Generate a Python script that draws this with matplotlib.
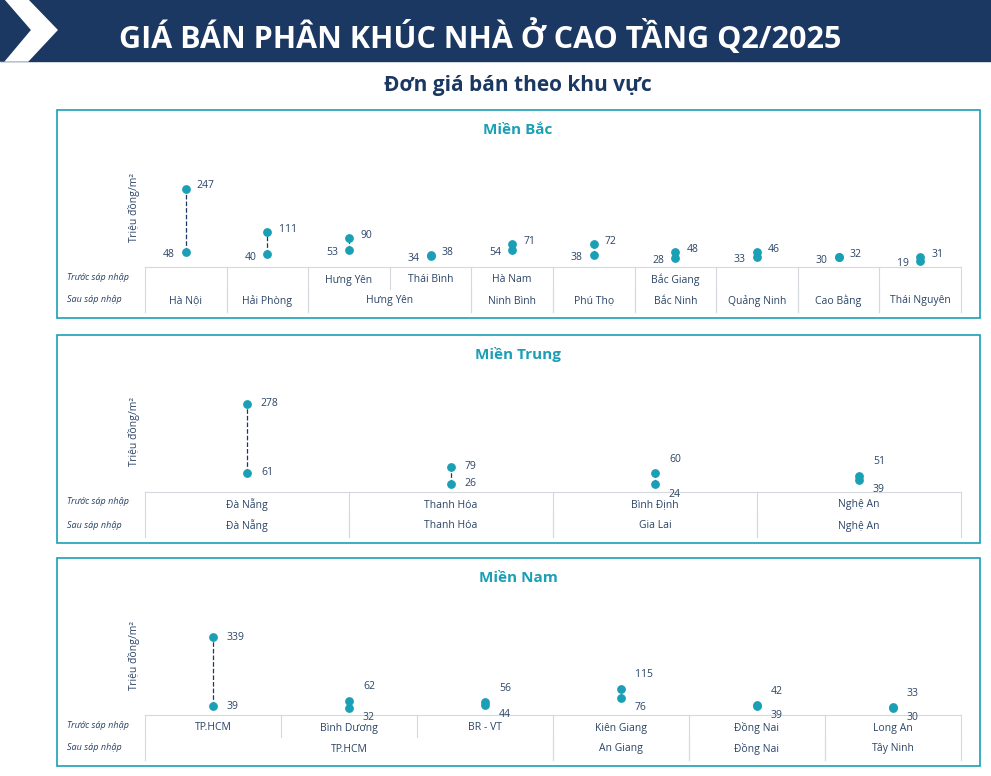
import matplotlib
matplotlib.use("Agg")
from matplotlib import pyplot as plt
from matplotlib.patches import Rectangle, Polygon

# ---- data ----
BAC_BEFORE = ["", "", "Hưng Yên", "Thái Bình", "Hà Nam", "", "Bắc Giang", "", "", ""]
BAC_AFTER = [("Hà Nội", 0, 1), ("Hải Phòng", 1, 2), ("Hưng Yên", 2, 4), ("Ninh Bình", 4, 5),
             ("Phú Thọ", 5, 6), ("Bắc Ninh", 6, 7), ("Quảng Ninh", 7, 8), ("Cao Bằng", 8, 9),
             ("Thái Nguyên", 9, 10)]
BAC_LOW = [48, 40, 53, 34, 54, 38, 28, 33, 30, 19]
BAC_HIGH = [247, 111, 90, 38, 71, 72, 48, 46, 32, 31]

TRUNG_BEFORE = ["Đà Nẵng", "Thanh Hóa", "Bình Định", "Nghệ An"]
TRUNG_AFTER = [("Đà Nẵng", 0, 1), ("Thanh Hóa", 1, 2), ("Gia Lai", 2, 3), ("Nghệ An", 3, 4)]
TRUNG_LOW = [61, 26, 24, 39]
TRUNG_HIGH = [278, 79, 60, 51]

NAM_BEFORE = ["TP.HCM", "Bình Dương", "BR - VT", "Kiên Giang", "Đồng Nai", "Long An"]
NAM_AFTER = [("TP.HCM", 0, 3), ("An Giang", 3, 4), ("Đồng Nai", 4, 5), ("Tây Ninh", 5, 6)]
NAM_LOW = [39, 32, 44, 76, 39, 30]
NAM_HIGH = [339, 62, 56, 115, 42, 33]

NAVY = "#1b3862"
TEAL = "#1a9fb5"
TXT = "#2b4466"
GRID = "#d5d8dc"
FONT = "Open Sans"

W, H = 991, 776
fig = plt.figure(figsize=(W / 100, H / 100), dpi=100)
bg = fig.add_axes([0, 0, 1, 1])
bg.set_xlim(0, W)
bg.set_ylim(H, 0)
bg.axis("off")

# header
bg.add_patch(Rectangle((0, 0), W, 61, color=NAVY))
bg.add_patch(Polygon([(0, 0), (28, 0), (57, 30), (28, 61), (0, 61)], color="white"))
bg.add_patch(Polygon([(0, 0), (4, 0), (30, 30), (4, 61), (0, 61)], color=NAVY))
bg.text(480, 37, "GIÁ BÁN PHÂN KHÚC NHÀ Ở CAO TẦNG Q2/2025", color="white", fontsize=22,
        fontweight="bold", family=FONT, ha="center", va="center")
bg.text(518, 85, "Đơn giá bán theo khu vực", color=NAVY, fontsize=15, fontweight="bold",
        family=FONT, ha="center", va="center")


def panel(top, title, before, after, low, high, ymax, left_low):
    n = len(low)
    x0, x1 = 145, 961
    base = top + 157
    bg.add_patch(Rectangle((57, top), 923, 208, fill=False, ec=TEAL, lw=1.2))
    bg.text(518, top + 20, title, color=TEAL, fontsize=11, fontweight="bold", family=FONT,
            ha="center", va="center")
    # table
    cw = (x1 - x0) / n
    bg.plot([x0, x1], [base, base], color=GRID, lw=0.8)
    bg.text(67, base + 10, "Trước sáp nhập", fontsize=6.5, style="italic", color=TXT,
            family=FONT, va="center")
    bg.text(67, base + 33, "Sau sáp nhập", fontsize=6.5, style="italic", color=TXT,
            family=FONT, va="center")
    for i, lab in enumerate(before):
        bg.text(x0 + (i + 0.5) * cw, base + 13, lab, fontsize=7.5, color=TXT, family=FONT,
                ha="center", va="center")
    for i in range(n + 1):
        bg.plot([x0 + i * cw] * 2, [base, base + 22], color=GRID, lw=0.8)
    for lab, a, b in after:
        bg.text(x0 + (a + b) / 2 * cw, base + 34, lab, fontsize=7.5, color=TXT, family=FONT,
                ha="center", va="center")
        bg.plot([x0 + a * cw] * 2, [base + 22, base + 45], color=GRID, lw=0.8)
        bg.plot([x0 + b * cw] * 2, [base + 22, base + 45], color=GRID, lw=0.8)
    # dot plot
    ax = fig.add_axes([x0 / W, 1 - base / H, (x1 - x0) / W, 117 / H])
    ax.set_xlim(0, n)
    ax.set_ylim(0, ymax)
    ax.axis("off")
    xs = [i + 0.5 for i in range(n)]
    for x, lo, hi in zip(xs, low, high):
        ax.plot([x, x], [lo, hi], ls="--", color=NAVY, lw=0.9, zorder=1)
        close = (hi - lo) < ymax * 0.1
        if left_low:
            ax.annotate(str(lo), (x, lo), xytext=(-8, -2), textcoords="offset points",
                        ha="right", va="center", fontsize=7.5, color=TXT, family=FONT)
            ax.annotate(str(hi), (x, hi), xytext=(8, 2), textcoords="offset points",
                        ha="left", va="center", fontsize=7.5, color=TXT, family=FONT)
        else:
            ax.annotate(str(lo), (x, lo), xytext=(10, -7 if close else 0),
                        textcoords="offset points", ha="left", va="center",
                        fontsize=7.5, color=TXT, family=FONT)
            ax.annotate(str(hi), (x, hi), xytext=(10, 10 if close else 0),
                        textcoords="offset points", ha="left", va="center",
                        fontsize=7.5, color=TXT, family=FONT)
    ax.scatter(xs, low, s=28, color=TEAL, zorder=2)
    ax.scatter(xs, high, s=28, color=TEAL, zorder=2)
    bg.text(134, base - 60, "Triệu đồng/m²", rotation=90, fontsize=7.5, color=TXT,
            family=FONT, ha="center", va="center")


panel(110, "Miền Bắc", BAC_BEFORE, BAC_AFTER, BAC_LOW, BAC_HIGH, 369, True)
panel(335, "Miền Trung", TRUNG_BEFORE, TRUNG_AFTER, TRUNG_LOW, TRUNG_HIGH, 368, False)
panel(558, "Miền Nam", NAM_BEFORE, NAM_AFTER, NAM_LOW, NAM_HIGH, 509, False)

fig.savefig("out.png", dpi=100)
